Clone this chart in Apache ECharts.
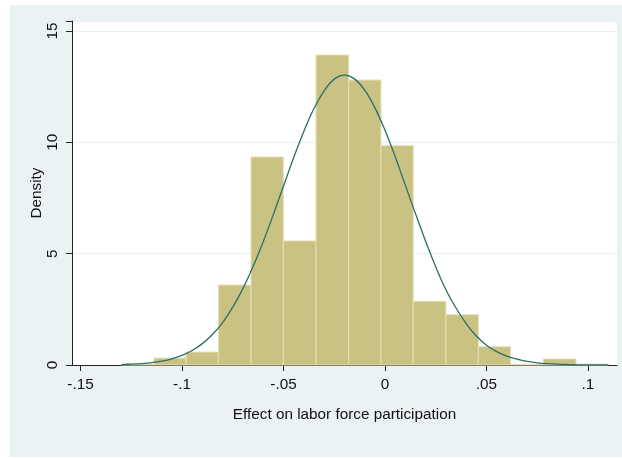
<!DOCTYPE html>
<html>
<head>
<meta charset="utf-8">
<script src="https://cdn.jsdelivr.net/npm/echarts@6/dist/echarts.min.js"></script>
<style>
html,body{margin:0;padding:0;background:#ffffff;}
#chart{width:622px;height:458px;}
</style>
</head>
<body>
<div id="chart"></div>
<script>
// Histogram bin edges
var binEdges = [-0.1298, -0.1138, -0.0980, -0.0821, -0.0660, -0.0501, -0.0340, -0.0179, -0.0020, 0.0139, 0.0300, 0.0460, 0.0619, 0.0780, 0.0941, 0.1100];
// Densities per bin
var densities = [0.04, 0.31, 0.58, 3.59, 9.34, 5.57, 13.92, 12.80, 9.85, 2.86, 2.26, 0.82, 0.03, 0.27, 0.04];
// Normal density overlay
var curveX = [-0.1298, -0.125, -0.12, -0.115, -0.11, -0.105, -0.10, -0.095, -0.09, -0.085, -0.08, -0.075, -0.07, -0.065, -0.06, -0.055, -0.05, -0.045, -0.04, -0.035, -0.03, -0.025, -0.02, -0.015, -0.01, -0.005, 0.00, 0.005, 0.01, 0.015, 0.02, 0.025, 0.03, 0.035, 0.04, 0.045, 0.05, 0.055, 0.06, 0.065, 0.07, 0.075, 0.08, 0.085, 0.09, 0.095, 0.10, 0.105, 0.11];
var curveY = [0.02, 0.04, 0.06, 0.11, 0.17, 0.28, 0.43, 0.65, 0.96, 1.37, 1.90, 2.60, 3.43, 4.42, 5.54, 6.76, 8.04, 9.31, 10.49, 11.52, 12.31, 12.84, 13.02, 12.85, 12.34, 11.56, 10.54, 9.36, 8.08, 6.80, 5.56, 4.41, 3.38, 2.56, 1.86, 1.30, 0.89, 0.60, 0.40, 0.26, 0.16, 0.10, 0.06, 0.035, 0.02, 0.01, 0.006, 0.003, 0.002];
// Tick values / labels
var xTickValues = [-0.15, -0.1, -0.05, 0, 0.05, 0.1];
var xTickLabels = ['-.15', '-.1', '-.05', '0', '.05', '.1'];
var yTickValues = [0, 5, 10, 15];
var yTickLabels = ['0', '5', '10', '15'];
var xTitle = 'Effect on labor force participation';
var yTitle = 'Density';

var barData = [];
for (var i = 0; i < densities.length; i++) {
  barData.push([binEdges[i], binEdges[i + 1], densities[i]]);
}
var lineData = curveX.map(function (x, i) { return [x, curveY[i]]; });

var font = '"Liberation Sans", Arial, sans-serif';
var fs = 15.3;
var chart = echarts.init(document.getElementById('chart'), null, {renderer: 'canvas'});
chart.setOption({
  backgroundColor: '#ffffff',
  animation: false,
  graphic: [{
    type: 'rect', z: -10, silent: true,
    shape: {x: 10, y: 5, width: 612, height: 452},
    style: {fill: '#eaf2f3'}
  }],
  grid: {
    left: 72, top: 21, right: 5, bottom: 93,
    show: true, backgroundColor: '#ffffff', borderWidth: 0
  },
  xAxis: {
    type: 'value',
    min: -0.1542, max: 0.1143,
    axisLine: {show: true, onZero: false, lineStyle: {color: '#222', width: 1}},
    axisTick: {show: true, length: 6, inside: false, customValues: xTickValues, lineStyle: {color: '#222'}},
    axisLabel: {
      customValues: xTickValues,
      margin: 12, fontSize: fs, color: '#111', fontFamily: font,
      formatter: function (v) {
        for (var i = 0; i < xTickValues.length; i++) {
          if (Math.abs(v - xTickValues[i]) < 1e-9) return xTickLabels[i];
        }
        return '';
      }
    },
    splitLine: {show: false},
    name: xTitle, nameLocation: 'middle', nameGap: 42, nameMoveOverlap: false,
    nameTextStyle: {fontSize: fs, color: '#111', fontFamily: font}
  },
  yAxis: {
    type: 'value',
    min: 0, max: 15.45, interval: 5,
    axisLine: {show: true, onZero: false, lineStyle: {color: '#222', width: 1}},
    axisTick: {show: true, length: 6, lineStyle: {color: '#222'}},
    axisLabel: {
      rotate: 90, margin: 12, fontSize: fs, color: '#111', fontFamily: font,
      formatter: function (v) {
        for (var i = 0; i < yTickValues.length; i++) {
          if (Math.abs(v - yTickValues[i]) < 1e-9) return yTickLabels[i];
        }
        return '';
      }
    },
    splitLine: {show: true, lineStyle: {color: '#e6eff1', width: 1}},
    name: yTitle, nameLocation: 'middle', nameGap: 28, nameRotate: 90, nameMoveOverlap: false,
    nameTextStyle: {fontSize: fs, color: '#111', fontFamily: font}
  },
  series: [{
    type: 'custom',
    data: barData,
    encode: {x: [0, 1], y: 2},
    renderItem: function (params, api) {
      var p0 = api.coord([api.value(0), api.value(2)]);
      var p1 = api.coord([api.value(1), 0]);
      return {
        type: 'rect',
        shape: {x: p0[0], y: p0[1], width: p1[0] - p0[0], height: p1[1] - p0[1]},
        style: {fill: '#cac283', stroke: '#e3dfb6', lineWidth: 1}
      };
    },
    z: 2
  }, {
    type: 'line',
    data: lineData,
    showSymbol: false,
    smooth: 0.4,
    lineStyle: {color: '#2a6f6a', width: 1.3},
    z: 3
  }]
});
</script>
</body>
</html>
